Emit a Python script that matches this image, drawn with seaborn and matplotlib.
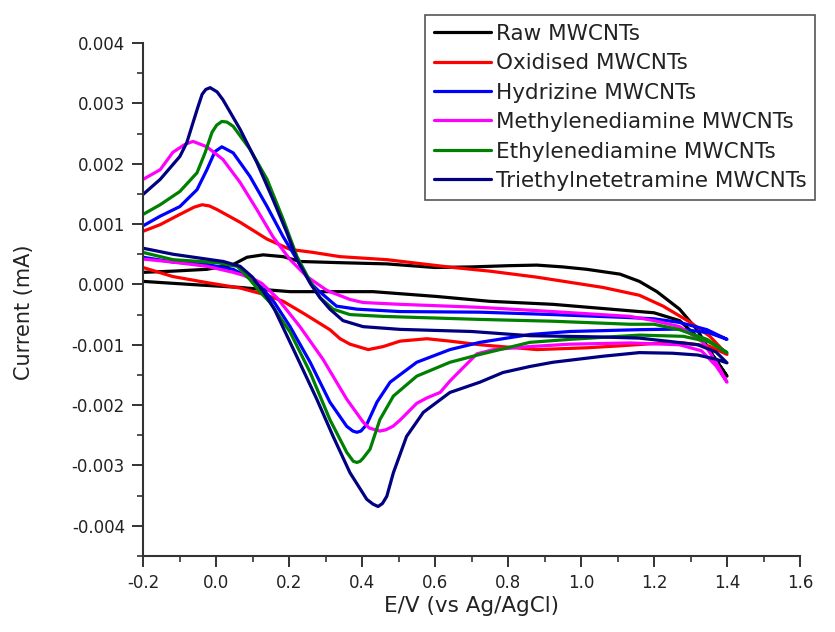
import numpy as np
import pandas as pd
import matplotlib
matplotlib.use("Agg")
import matplotlib.pyplot as plt
from matplotlib.ticker import MultipleLocator, FormatStrFormatter
from matplotlib.lines import Line2D
import seaborn as sns

# Cyclic voltammograms: each loop is the forward sweep (-0.2 -> 1.4 V)
# followed by the reverse sweep back to -0.2 V. Currents in units of 1e-3 mA.
samples = ["Raw MWCNTs", "Oxidised MWCNTs", "Hydrizine MWCNTs",
           "Methylenediamine MWCNTs", "Ethylenediamine MWCNTs",
           "Triethylnetetramine MWCNTs"]
colors = ["#000000", "#ff0000", "#0000ff", "#ff00ff", "#008000", "#000080"]

raw_E = [-0.200, -0.118, -0.025, 0.047, 0.085, 0.129, 0.184, 0.230, 0.340, 0.468,
         0.600, 0.700, 0.800, 0.879, 0.950, 1.016, 1.107, 1.160, 1.208, 1.270, 1.318,
         1.362, 1.400,
         1.370, 1.335, 1.270, 1.200, 1.160, 0.923, 0.750, 0.605, 0.430, 0.285, 0.203,
         0.120, 0.066, -0.071, -0.200]
raw_I = [0.20, 0.22, 0.25, 0.33, 0.45, 0.49, 0.46, 0.38, 0.36, 0.34,
         0.28, 0.29, 0.31, 0.32, 0.29, 0.25, 0.17, 0.05, -0.12, -0.41, -0.75,
         -1.19, -1.52,
         -1.25, -0.96, -0.60, -0.47, -0.45, -0.33, -0.28, -0.20, -0.12, -0.12, -0.12,
         -0.08, -0.05, 0.00, 0.05]

ox_E = [-0.200, -0.153, -0.099, -0.060, -0.038, -0.018, 0.003, 0.066, 0.140, 0.203,
        0.266, 0.340, 0.468, 0.650, 0.750, 0.879, 1.060, 1.160, 1.225, 1.300, 1.353,
        1.400,
        1.350, 1.280, 1.200, 1.100, 1.016, 0.879, 0.723, 0.641, 0.578, 0.504, 0.458,
        0.417, 0.367, 0.340, 0.312, 0.240, 0.184, 0.140, 0.066, -0.025, -0.118, -0.200]
ox_I = [0.88, 0.99, 1.16, 1.28, 1.32, 1.30, 1.24, 1.03, 0.75, 0.58,
        0.53, 0.46, 0.41, 0.28, 0.22, 0.12, -0.05, -0.18, -0.36, -0.63, -0.86,
        -1.16,
        -1.02, -0.97, -0.98, -1.02, -1.05, -1.08, -1.00, -0.94, -0.90, -0.94, -1.03,
        -1.08, -0.99, -0.90, -0.75, -0.48, -0.28, -0.18, -0.06, 0.03, 0.13, 0.28]

hyd_E = [-0.200, -0.153, -0.099, -0.052, -0.025, -0.003, 0.016, 0.047, 0.093, 0.140,
         0.184, 0.222, 0.258, 0.280, 0.330, 0.386, 0.504, 0.723, 0.923, 1.134, 1.200,
         1.270, 1.345, 1.400,
         1.350, 1.270, 1.160, 0.970, 0.860, 0.723, 0.641, 0.550, 0.477, 0.441, 0.413,
         0.397, 0.386, 0.375, 0.358, 0.312, 0.258, 0.203, 0.160, 0.125, 0.093, 0.047,
         -0.025, -0.118, -0.200]
hyd_I = [0.97, 1.13, 1.29, 1.57, 1.90, 2.20, 2.28, 2.18, 1.79, 1.29,
         0.79, 0.41, 0.03, -0.10, -0.36, -0.41, -0.45, -0.46, -0.50, -0.55, -0.57,
         -0.63, -0.75, -0.91,
         -0.80, -0.74, -0.75, -0.78, -0.83, -0.96, -1.08, -1.29, -1.62, -1.95, -2.32,
         -2.43, -2.45, -2.43, -2.35, -1.95, -1.29, -0.70, -0.30, -0.05, 0.10, 0.25,
         0.33, 0.37, 0.45]

meth_E = [-0.200, -0.153, -0.118, -0.085, -0.063, -0.025, 0.019, 0.066, 0.112, 0.156,
          0.203, 0.249, 0.304, 0.367, 0.403, 0.504, 0.723, 0.923, 1.134, 1.200, 1.270,
          1.335, 1.370, 1.400,
          1.370, 1.330, 1.270, 1.134, 0.970, 0.860, 0.760, 0.715, 0.677, 0.641, 0.614,
          0.578, 0.550, 0.504, 0.485, 0.465, 0.449, 0.420, 0.403, 0.358, 0.293, 0.230,
          0.167, 0.125, 0.093, 0.047, -0.025, -0.118, -0.200]
meth_I = [1.74, 1.90, 2.19, 2.32, 2.37, 2.28, 2.07, 1.69, 1.24, 0.79,
          0.41, 0.13, -0.10, -0.25, -0.30, -0.33, -0.38, -0.45, -0.53, -0.60, -0.70,
          -0.96, -1.29, -1.62,
          -1.35, -1.10, -1.00, -0.97, -0.99, -1.03, -1.08, -1.15, -1.38, -1.60, -1.79,
          -1.88, -1.97, -2.25, -2.35, -2.41, -2.43, -2.38, -2.28, -1.90, -1.24, -0.70,
          -0.22, 0.02, 0.12, 0.20, 0.30, 0.37, 0.42]

en_E = [-0.200, -0.153, -0.099, -0.052, -0.030, -0.011, 0.002, 0.016, 0.030, 0.047,
        0.093, 0.140, 0.184, 0.222, 0.258, 0.285, 0.321, 0.367, 0.458, 0.723, 0.923,
        1.134, 1.200, 1.270, 1.345, 1.400,
        1.350, 1.280, 1.160, 0.970, 0.860, 0.723, 0.641, 0.550, 0.486, 0.449, 0.422,
        0.403, 0.395, 0.386, 0.376, 0.358, 0.312, 0.258, 0.203, 0.148, 0.120, 0.093,
        0.058, 0.003, -0.118, -0.200]
en_I = [1.16, 1.32, 1.54, 1.85, 2.18, 2.52, 2.64, 2.70, 2.69, 2.62,
        2.24, 1.74, 1.08, 0.46, 0.05, -0.22, -0.41, -0.50, -0.53, -0.58, -0.61,
        -0.66, -0.66, -0.75, -0.91, -1.13,
        -0.95, -0.86, -0.84, -0.91, -0.96, -1.16, -1.29, -1.52, -1.85, -2.24, -2.73,
        -2.88, -2.93, -2.95, -2.93, -2.78, -2.24, -1.46, -0.79, -0.30, -0.12, 0.08,
        0.30, 0.36, 0.41, 0.53]

teta_E = [-0.200, -0.153, -0.099, -0.080, -0.063, -0.049, -0.038, -0.028, -0.016,
          0.003, 0.019, 0.066, 0.112, 0.156, 0.194, 0.222, 0.260, 0.285, 0.312, 0.348,
          0.403, 0.504, 0.700, 0.860, 1.050, 1.160, 1.250, 1.320, 1.370, 1.400,
          1.370, 1.320, 1.250, 1.160, 1.060, 0.923, 0.860, 0.786, 0.723, 0.641, 0.568,
          0.522, 0.486, 0.468, 0.456, 0.444, 0.430, 0.413, 0.367, 0.321, 0.276, 0.221,
          0.160, 0.130, 0.100, 0.066, 0.020, -0.118, -0.200]
teta_I = [1.49, 1.74, 2.12, 2.35, 2.68, 2.95, 3.15, 3.23, 3.26,
          3.19, 3.06, 2.57, 2.02, 1.41, 0.86, 0.41, 0.00, -0.22, -0.41, -0.60,
          -0.70, -0.745, -0.78, -0.85, -0.87, -0.89, -0.95, -1.00, -1.12, -1.30,
          -1.24, -1.17, -1.14, -1.13, -1.19, -1.29, -1.36, -1.46, -1.62, -1.79, -2.12,
          -2.52, -3.12, -3.51, -3.63, -3.68, -3.64, -3.56, -3.12, -2.52, -1.90, -1.19,
          -0.41, -0.12, 0.12, 0.30, 0.38, 0.50, 0.60]

potentials = [raw_E, ox_E, hyd_E, meth_E, en_E, teta_E]
currents = [raw_I, ox_I, hyd_I, meth_I, en_I, teta_I]
scale = 1e-3

frames = []
for name, E, I in zip(samples, potentials, currents):
    frames.append(pd.DataFrame({"sample": name,
                                "E": E,
                                "I": np.asarray(I) * scale}))
df = pd.concat(frames, ignore_index=True)

sns.set_style("ticks")
plt.rcParams["font.family"] = ["DejaVu Sans"]
plt.rcParams["axes.unicode_minus"] = False

axis_col = "#333333"
text_col = "#222222"

fig = plt.figure(figsize=(8.35, 6.32), dpi=100)
ax = fig.add_axes([143 / 835, 1 - 556 / 632, 657 / 835, 513 / 632])

sns.lineplot(data=df, x="E", y="I", hue="sample", hue_order=samples,
             palette=colors, sort=False, estimator=None, linewidth=2.3,
             legend=False, ax=ax)
for line in ax.get_lines():
    line.set_solid_joinstyle("round")

ax.set_xlim(-0.2, 1.6)
ax.set_ylim(-0.0045, 0.004)
ax.xaxis.set_major_locator(MultipleLocator(0.2))
ax.xaxis.set_minor_locator(MultipleLocator(0.1))
ax.yaxis.set_major_locator(MultipleLocator(0.001))
ax.yaxis.set_minor_locator(MultipleLocator(0.0005))
ax.xaxis.set_major_formatter(FormatStrFormatter("%.1f"))
ax.yaxis.set_major_formatter(FormatStrFormatter("%.3f"))

for side in ["top", "right"]:
    ax.spines[side].set_visible(False)
for side in ["left", "bottom"]:
    ax.spines[side].set_color(axis_col)
    ax.spines[side].set_linewidth(1.5)

ax.tick_params(which="major", direction="out", length=8, width=1.4,
               color=axis_col, labelsize=12, labelcolor=text_col, pad=5)
ax.tick_params(which="minor", direction="out", length=4, width=1.2,
               color=axis_col)

ax.set_xlabel("E/V (vs Ag/AgCl)", fontsize=15.5, color=text_col)
ax.set_ylabel("Current (mA)", fontsize=15, color=text_col)
ax.xaxis.set_label_coords(0.5, -0.078)
ax.yaxis.set_label_coords(-0.166, 0.475)

handles = [Line2D([], [], color=c, linewidth=2.3) for c in colors]
leg = ax.legend(handles, samples, loc="upper left",
                bbox_to_anchor=(425 / 835, 1 - 15 / 632),
                bbox_transform=fig.transFigure, borderaxespad=0,
                fontsize=15.5, frameon=True, fancybox=False, shadow=False,
                framealpha=1, edgecolor="#555555", handlelength=2.65,
                handletextpad=0.23, labelspacing=0.44, borderpad=0.4)
leg.get_frame().set_linewidth(1.2)
for t in leg.get_texts():
    t.set_color(text_col)

fig.savefig("out.png", dpi=100, facecolor="white")
